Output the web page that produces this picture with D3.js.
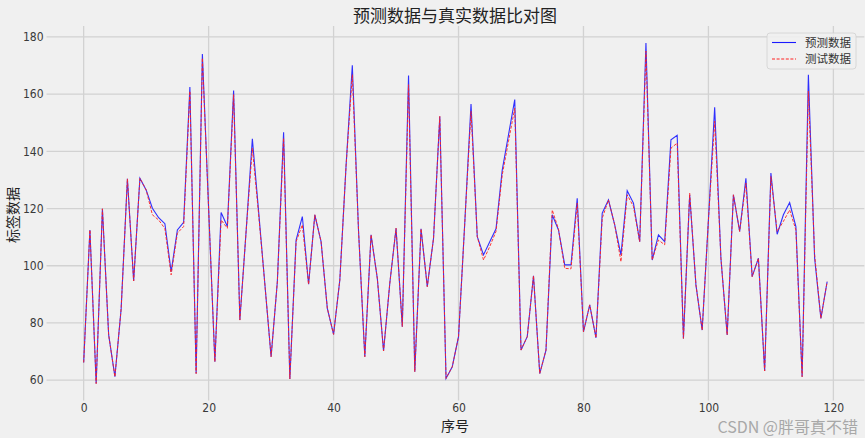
<!DOCTYPE html>
<html><head><meta charset="utf-8">
<script src="https://cdn.jsdelivr.net/npm/d3@7"></script>
<style>html,body{margin:0;padding:0;background:#f0f0f0;}svg{display:block;}</style>
</head><body>
<svg id="chart" width="865" height="438"></svg>
<script>
const predicted = [66.2,112.5,58.8,119.9,75.8,61.2,85,130.4,94.7,130.6,
126.5,120.1,116.8,114.7,97.9,112.5,115.2,162.5,62.3,174,
120,66.4,118.6,113.7,161.3,81,112,144.4,119,93.6,
68.2,94.4,146.7,60.4,109,117.2,93.5,117.8,108.4,85.1,
76,95,135,170.1,112,68.2,110.8,95.6,70.2,93.9,
113.1,78.7,166.5,62.9,112.9,92.7,109.6,152.2,60.6,64.7,
75.2,115,156.5,110.2,103.8,108.4,112.9,133.5,145.8,158.1,
70.5,75.2,96.5,62.3,70.5,117.8,112.5,100.3,100.3,123.6,
76.9,86.3,74.8,118.4,123,114.3,103.8,126.2,121.9,108.4,
177.9,102,110.8,108.4,144,145.6,74.6,124.8,93.3,77.5,
116,155.4,102.6,75.8,124.8,112,130.6,96.2,102.6,63.2,
132.4,111,117.8,122.1,113.7,61.2,166.8,102.6,81.6,94.4];
const tested = [66.2,112.5,58.8,119.9,75.8,61.2,85,130.4,94.7,130.6,
126.5,117.8,116,113,96.8,111.4,113.7,161,62.3,172.6,
120,66.4,116,113.1,159.8,81,112,141.1,118,93.6,
68.2,94.4,144.6,60.4,108.4,114.3,93.5,117.8,108.4,85.1,
76,95,135,166.8,112,68.2,110.8,95.6,70.2,93.9,
113.1,78.7,163.3,62.9,112.9,92.7,109.6,152.2,60.6,64.7,
75.2,115,154,110.2,102,106.7,112,131.8,143.5,155.1,
70.5,75.2,96.5,62.3,70.5,119.5,112.8,99.1,98.9,121.9,
76.9,86.3,74.8,116.6,123,114.3,101.4,124.8,120.7,108.4,
175,102,109,107.3,141.1,142.9,74.6,125.4,93.3,77.5,
116,150.5,102.6,75.8,124.8,112,128.9,96.2,102.6,63.2,
131.2,112,115.5,119.5,112.5,61.2,161,103.8,81.6,94.4];
const xTicks = [0,20,40,60,80,100,120];
const yTicks = [60,80,100,120,140,160,180];
const seriesNames = ["预测数据","测试数据"];
const titleText = "预测数据与真实数据比对图";
const xLabel = "序号";
const yLabel = "标签数据";
const watermark = "CSDN @胖哥真不错";

(function(){
const svg = d3.select("#chart");
const W = 865, H = 438;
svg.append("rect").attr("width",W).attr("height",H).attr("fill","#f0f0f0");

const n = predicted.length;
const xm = (n-1)*0.05;
const all = predicted.concat(tested);
const ymin = d3.min(all), ymax = d3.max(all), ym = (ymax-ymin)*0.05;
const pL = 46.5, pR = 864.3, pT = 25.9, pB = 400.6;
const x = d3.scaleLinear().domain([-xm, n-1+xm]).range([pL, pR]);
const y = d3.scaleLinear().domain([ymin-ym, ymax+ym]).range([pB, pT]);

const grid = svg.append("g").attr("stroke","#d2d2d2").attr("stroke-width",1.3);
xTicks.forEach(t=>grid.append("line").attr("x1",x(t)).attr("x2",x(t)).attr("y1",pT).attr("y2",pB));
yTicks.forEach(t=>grid.append("line").attr("x1",pL).attr("x2",pR).attr("y1",y(t)).attr("y2",y(t)));

const tickFont = "'Liberation Sans Narrow','DejaVu Sans Condensed','Liberation Sans',sans-serif";
const cjk = "'Noto Sans CJK SC','Noto Sans',sans-serif";

const xAxis = svg.append("g").attr("transform",`translate(0,${pB})`)
  .call(d3.axisBottom(x).tickValues(xTicks).tickSize(0).tickPadding(3));
xAxis.select(".domain").remove();
xAxis.selectAll("text").attr("font-family",tickFont).attr("font-size",12).attr("fill","#3a3a3a");

const yAxis = svg.append("g").attr("transform",`translate(${pL},0)`)
  .call(d3.axisLeft(y).tickValues(yTicks).tickSize(0).tickPadding(3));
yAxis.select(".domain").remove();
yAxis.selectAll("text").attr("font-family",tickFont).attr("font-size",12).attr("fill","#3a3a3a");

const line = d3.line().x((d,i)=>x(i)).y(d=>y(d));
svg.append("path").datum(predicted).attr("d",line).attr("fill","none")
  .attr("stroke","#1a1aff").attr("stroke-width",1.1).attr("stroke-opacity",0.9);
svg.append("path").datum(tested).attr("d",line).attr("fill","none")
  .attr("stroke","#ff2020").attr("stroke-width",1).attr("stroke-dasharray","3,1.6").attr("stroke-opacity",0.9);

svg.append("text").attr("x",455).attr("y",22).attr("text-anchor","middle")
  .attr("font-family",cjk).attr("font-size",17).attr("fill","#222").text(titleText);
svg.append("text").attr("x",455).attr("y",431).attr("text-anchor","middle")
  .attr("font-family",cjk).attr("font-size",14).attr("fill","#222").text(xLabel);
svg.append("text").attr("transform","translate(18,215) rotate(-90)").attr("text-anchor","middle")
  .attr("font-family",cjk).attr("font-size",14).attr("fill","#222").text(yLabel);

const lg = svg.append("g");
lg.append("rect").attr("x",767).attr("y",33).attr("width",89).attr("height",36).attr("rx",3)
  .attr("fill","#f0f0f0").attr("fill-opacity",0.85).attr("stroke","#d0d0d0").attr("stroke-width",0.8);
const lys = [42.5, 59];
lg.append("line").attr("x1",772).attr("x2",796).attr("y1",lys[0]).attr("y2",lys[0])
  .attr("stroke","#1a1aff").attr("stroke-width",1.1);
lg.append("line").attr("x1",772).attr("x2",796).attr("y1",lys[1]).attr("y2",lys[1])
  .attr("stroke","#ff2020").attr("stroke-width",1).attr("stroke-dasharray","3,1.6");
seriesNames.forEach((s,i)=>lg.append("text").attr("x",805).attr("y",lys[i]).attr("dy","0.35em")
  .attr("font-family",cjk).attr("font-size",11.5).attr("fill","#333").text(s));

svg.append("text").attr("x",858).attr("y",433).attr("text-anchor","end")
  .attr("font-family",cjk).attr("font-size",16).attr("fill","#a8a8a8").text(watermark);
})();
</script>
</body></html>
